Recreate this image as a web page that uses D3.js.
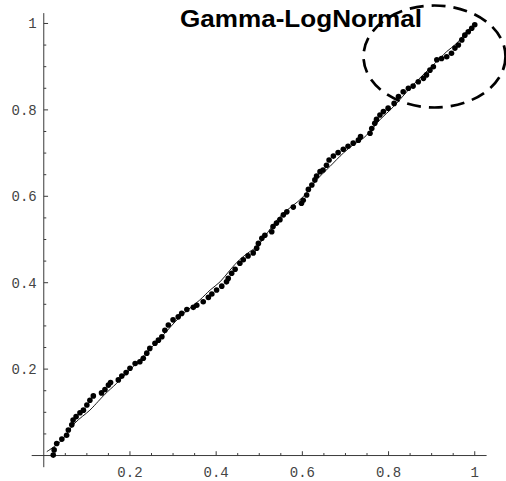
<!DOCTYPE html>
<html><head><meta charset="utf-8">
<script src="https://cdn.jsdelivr.net/npm/d3@7"></script>
<style>html,body{margin:0;padding:0;background:#fff;}svg{display:block;}</style>
</head><body>
<svg id="chart" width="506" height="481"></svg>
<script>
const ppX = [0.022,0.024,0.030,0.042,0.053,0.057,0.065,0.068,0.075,0.084,0.092,0.100,0.107,0.115,0.134,0.142,0.150,0.155,0.173,0.181,0.191,0.200,0.212,0.223,0.231,0.239,0.246,0.258,0.266,
 0.274,0.281,0.289,0.300,0.312,0.320,0.332,0.347,0.355,0.370,0.382,0.390,0.401,0.413,0.424,0.428,0.436,0.444,0.455,0.463,0.474,0.486,0.494,0.498,0.506,0.513,0.529,0.532,0.540,
 0.548,0.556,0.564,0.579,0.598,0.602,0.610,0.614,0.622,0.629,0.633,0.641,0.648,0.656,0.662,0.672,0.683,0.695,0.706,0.718,0.730,0.735,0.757,0.761,0.768,0.772,0.780,0.788,0.799,
 0.813,0.823,0.834,0.846,0.857,0.869,0.881,0.888,0.896,0.904,0.912,0.923,0.935,0.946,0.954,0.962,0.970,0.977,0.985,0.993,1.000];
const ppY = [0.001,0.013,0.028,0.038,0.047,0.059,0.071,0.082,0.090,0.099,0.105,0.117,0.128,0.138,0.145,0.153,0.163,0.169,0.175,0.184,0.192,0.202,0.213,0.217,0.225,0.237,0.248,0.260,0.267,
 0.275,0.290,0.302,0.314,0.321,0.329,0.338,0.343,0.348,0.356,0.366,0.374,0.383,0.392,0.402,0.410,0.422,0.431,0.445,0.453,0.462,0.469,0.480,0.491,0.503,0.510,0.518,0.530,0.538,
 0.546,0.557,0.564,0.575,0.584,0.591,0.603,0.616,0.626,0.638,0.647,0.657,0.661,0.672,0.684,0.693,0.701,0.709,0.716,0.723,0.730,0.738,0.746,0.757,0.769,0.778,0.788,0.796,0.804,
 0.815,0.831,0.842,0.850,0.855,0.865,0.873,0.881,0.892,0.900,0.916,0.919,0.923,0.931,0.943,0.950,0.962,0.973,0.981,0.989,0.997];
// thin reference curve
const refX = [0.007,0.038,0.072,0.107,0.126,0.142,0.169,0.200,0.270,0.316,0.362,0.386,0.409,0.432,0.455,0.478,0.494,0.548,0.602,0.633,0.664,0.695,0.718,0.741,0.757,0.780,0.811,0.857,0.908,0.935,0.958,0.981,1.000];
const refY = [0.009,0.032,0.075,0.105,0.125,0.142,0.167,0.198,0.271,0.321,0.360,0.383,0.402,0.429,0.454,0.472,0.483,0.553,0.599,0.638,0.669,0.700,0.719,0.734,0.750,0.777,0.807,0.858,0.908,0.935,0.954,0.981,0.997];
const majorTicks = [0.2,0.4,0.6,0.8,1];
const minorTicks = [0.05,0.1,0.15,0.25,0.3,0.35,0.45,0.5,0.55,0.65,0.7,0.75,0.85,0.9,0.95];
const titleText = "Gamma-LogNormal";

const svg = d3.select("#chart");
const x = d3.scaleLinear().domain([-0.028, 1.0275]).range([31.7, 486.6]);
const y = d3.scaleLinear().domain([-0.027, 1.024]).range([467.2, 13.1]);
const axisColor = "#3a3a3a";

// axes lines
svg.append("line").attr("x1", x(-0.028)).attr("x2", x(1.0275)).attr("y1", y(0)).attr("y2", y(0))
  .attr("stroke", axisColor).attr("stroke-width", 1);
svg.append("line").attr("x1", x(0)).attr("x2", x(0)).attr("y1", y(-0.027)).attr("y2", y(1.024))
  .attr("stroke", axisColor).attr("stroke-width", 1);

// ticks
const tg = svg.append("g").attr("stroke", axisColor).attr("stroke-width", 1);
majorTicks.forEach(t => {
  tg.append("line").attr("x1", x(t)).attr("x2", x(t)).attr("y1", y(0)).attr("y2", y(0) - 4.3);
  tg.append("line").attr("y1", y(t)).attr("y2", y(t)).attr("x1", x(0)).attr("x2", x(0) + 4.3);
});
minorTicks.forEach(t => {
  tg.append("line").attr("x1", x(t)).attr("x2", x(t)).attr("y1", y(0)).attr("y2", y(0) - 2.5);
  tg.append("line").attr("y1", y(t)).attr("y2", y(t)).attr("x1", x(0)).attr("x2", x(0) + 2.5);
});
const fmt = d => d === 1 ? "1" : d3.format(".1f")(d);
const lab = svg.append("g").attr("font-family", "'Liberation Mono', 'DejaVu Sans Mono', monospace")
  .attr("font-size", 14).attr("fill", "#444");
majorTicks.forEach(t => {
  lab.append("text").attr("x", x(t)).attr("y", y(0) + 21).attr("text-anchor", "middle").text(fmt(t));
  lab.append("text").attr("x", x(0) - 7).attr("y", y(t)).attr("dy", "0.35em").attr("text-anchor", "end").text(fmt(t));
});

// thin reference curve
const refData = refX.map((v, i) => [v, refY[i]]);
svg.append("path").datum(refData)
  .attr("d", d3.line().x(d => x(d[0])).y(d => y(d[1])).curve(d3.curveCatmullRom))
  .attr("fill", "none").attr("stroke", "#000").attr("stroke-width", 0.9);

// points
const ppData = ppX.map((v, i) => [v, ppY[i]]);
svg.append("g").selectAll("circle").data(ppData).join("circle")
  .attr("cx", d => x(d[0])).attr("cy", d => y(d[1])).attr("r", 2.8).attr("fill", "#000");

// title
svg.append("text").attr("x", 180).attr("y", 27)
  .attr("font-family", "'Liberation Sans', Arial, sans-serif").attr("font-weight", "bold")
  .attr("font-size", 24).attr("textLength", 242).attr("lengthAdjust", "spacingAndGlyphs")
  .attr("fill", "#000").text(titleText);

// dashed ellipse annotation
svg.append("ellipse").attr("cx", 434.5).attr("cy", 56.5).attr("rx", 71).attr("ry", 51)
  .attr("fill", "none").attr("stroke", "#000").attr("stroke-width", 2.7)
  .attr("stroke-dasharray", "14,8");
</script>
</body></html>
